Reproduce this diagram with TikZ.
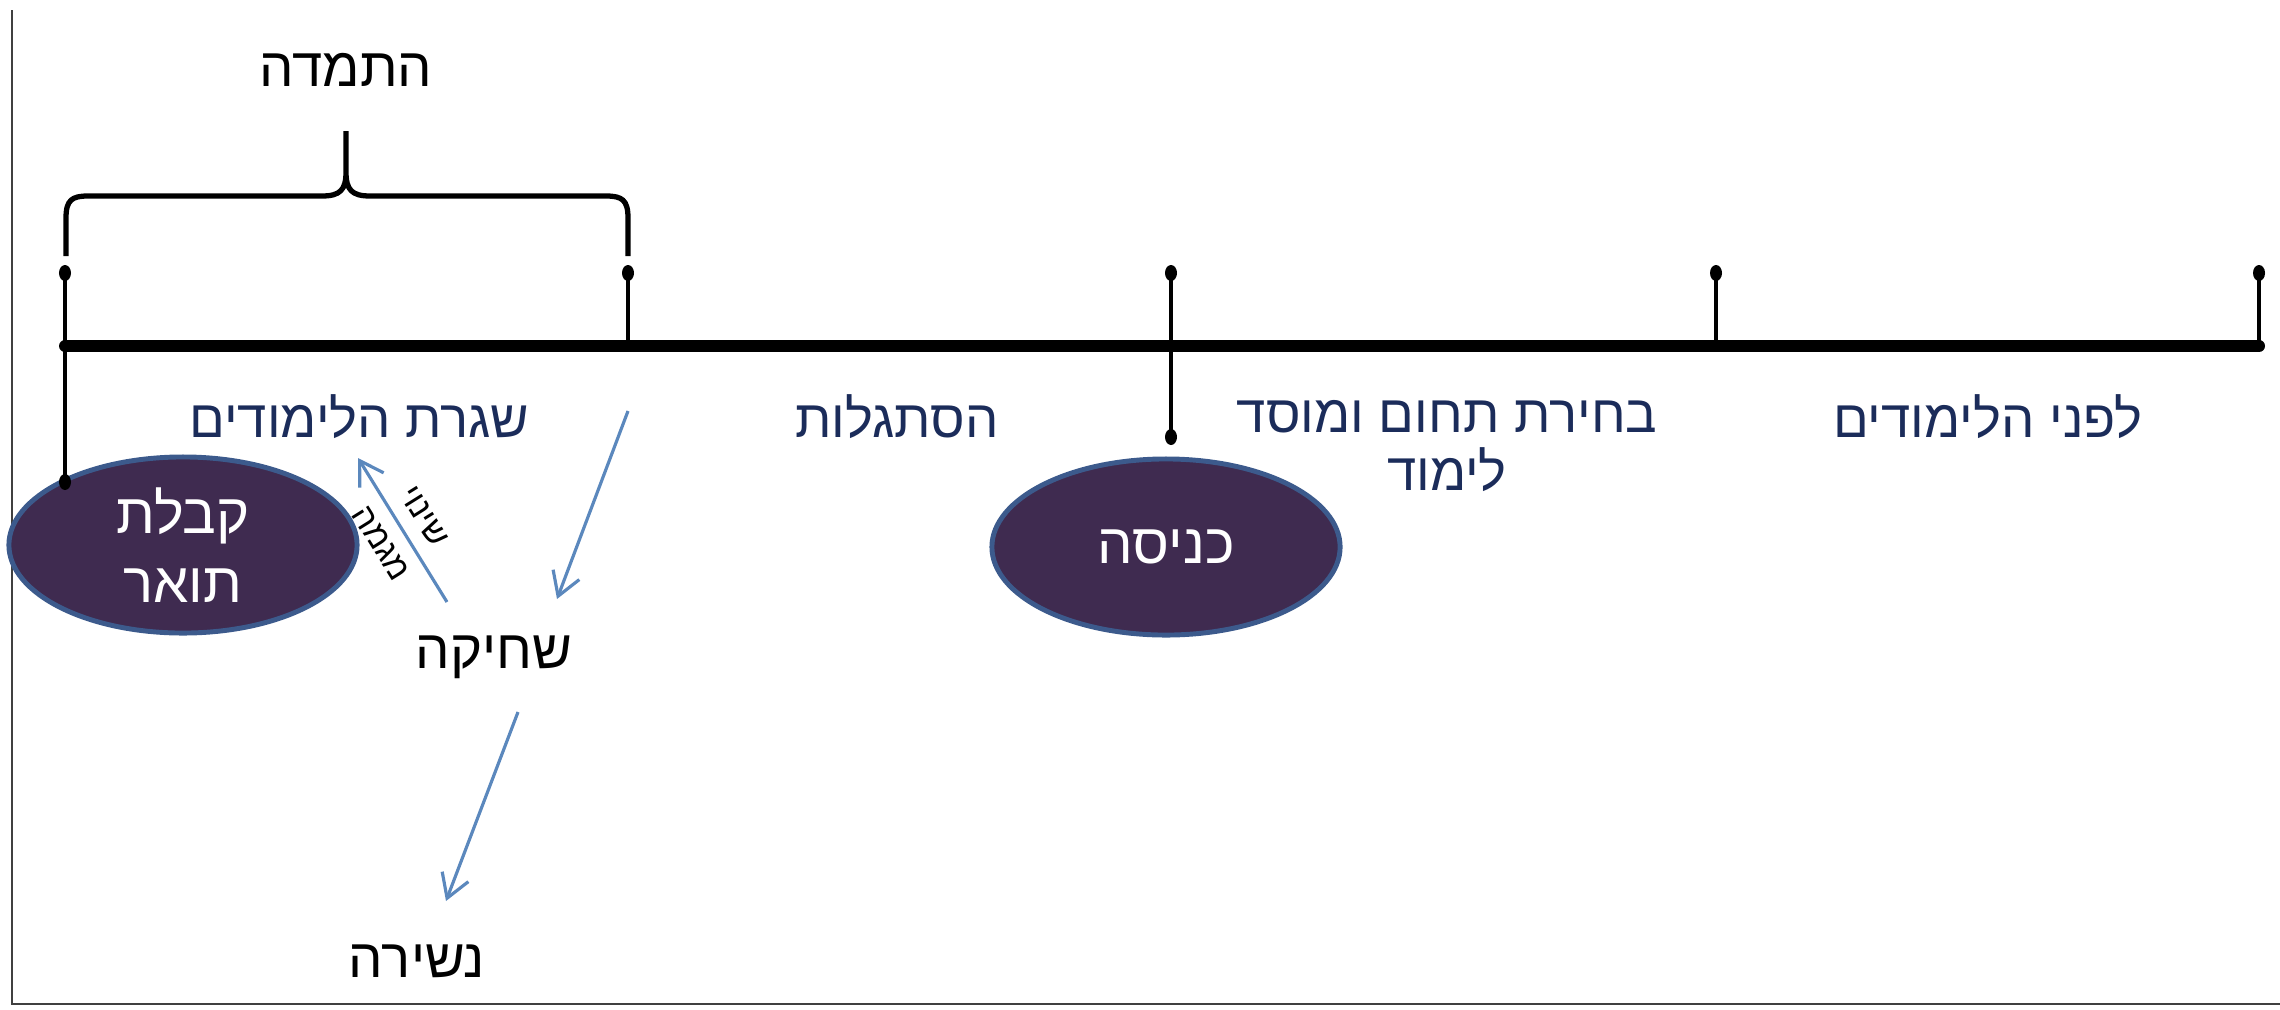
\documentclass[tikz,border=0pt]{standalone}
\usepackage{fontspec}
\usetikzlibrary{arrows.meta,shapes.geometric}
\newfontfamily\heb[Script=Hebrew]{Liberation Sans}
\TeXXeTstate=1
\newcommand{\RL}[1]{\beginR #1\endR}
\definecolor{navy}{HTML}{1B2C5A}
\definecolor{ellfill}{HTML}{3F2B50}
\definecolor{elldraw}{HTML}{3C5A8C}
\definecolor{arrowc}{HTML}{5B88BD}
\begin{document}
\begin{tikzpicture}[x=0.01cm,y=-0.01cm,
  lbl/.style={text=navy,font=\heb\fontsize{15}{16.5}\selectfont,inner sep=0pt,align=center},
  blk/.style={text=black,font=\heb\fontsize{15.5}{17.5}\selectfont,inner sep=0pt,align=center},
  small/.style={text=black,font=\heb\fontsize{9.5}{14.5}\selectfont,inner sep=0pt,align=center},
  ell/.style={ellipse,fill=ellfill,draw=elldraw,line width=1.4pt,text=white,
    font=\heb\fontsize{16}{19.5}\selectfont,align=center,inner sep=0pt,
    minimum width=3.48cm,minimum height=1.76cm},
  tdot/.style={ellipse,fill=black,minimum width=0.12cm,minimum height=0.16cm,inner sep=0pt},
  mainline/.style={line width=3.4pt,line cap=round},
  tick/.style={line width=1.2pt},
  brace/.style={line width=1.5pt},
  arr/.style={draw=arrowc,line width=0.9pt,-{Straight Barb[length=0.23cm,width=0.28cm]}},
  frame/.style={draw=black!75,line width=0.7pt}]
\useasboundingbox (0,0) rectangle (2280,1009);
% frame
\coordinate (fa) at (12,10);
\coordinate (fb) at (12,1004);
\coordinate (fc) at (2280,1004);
\draw[frame] (fa) -- (fb) -- (fc);
% timeline points
\coordinate (t1) at (65,346);
\coordinate (t2) at (628,346);
\coordinate (t3) at (1171,346);
\coordinate (t4) at (1716,346);
\coordinate (t5) at (2259,346);
% ellipses
\node[ell] (grad) at (183,545) {\RL{קבלת}\\\RL{תואר}};
\node[ell] (entry) at (1166,547) {\RL{כניסה}};
% dots
\node[tdot] (d1) at (65,273) {};
\node[tdot] (d2) at (628,273) {};
\node[tdot] (d3) at (1171,273) {};
\node[tdot] (d4) at (1716,273) {};
\node[tdot] (d5) at (2259,273) {};
\node[tdot] (e1) at (65,482) {};
\node[tdot] (e3) at (1171,437) {};
% ticks
\draw[tick] (d1.center) -- (e1.center);
\draw[tick] (d2.center) -- (t2);
\draw[tick] (d3.center) -- (e3.center);
\draw[tick] (d4.center) -- (t4);
\draw[tick] (d5.center) -- (t5);
\draw[mainline] (t1) -- (t5);
% brace
\coordinate (bl) at (66,256);
\coordinate (br) at (628,256);
\coordinate (btip) at (346,131);
\draw[brace] (bl) -- (66,218) .. controls (66,200) and (72,196) .. (88,196)
  -- (322,196) .. controls (340,196) and (346,190) .. (346,172) -- (btip)
  -- (346,172) .. controls (346,190) and (352,196) .. (370,196)
  -- (606,196) .. controls (622,196) and (628,200) .. (628,218) -- (br);
\node[blk] (persist) at (346,70) {\RL{התמדה}};
% labels
\node[lbl] (routine) at (359,417) {\RL{שגרת הלימודים}};
\node[lbl] (adapt) at (897,417) {\RL{הסתגלות}};
\node[lbl] (choice) at (1447,446) {\RL{בחירת תחום ומוסד}\\\RL{לימוד}};
\node[lbl] (before) at (1988,417) {\RL{לפני הלימודים}};
\node[blk] (burn) at (494,657) {\RL{שחיקה}};
\node[blk] (drop) at (417,961) {\RL{נשירה}};
% arrows
\coordinate (a1s) at (628,411);
\coordinate (a1e) at (557,599);
\coordinate (a2s) at (447,602);
\coordinate (a2e) at (358,458);
\coordinate (a3s) at (518,712);
\coordinate (a3e) at (446,901);
\draw[arr] (a1s) -- (a1e);
\draw[arr] (a2s) -- (a2e) node[midway,small,rotate=-58] (change) {\RL{שינוי}\\\RL{מגמה}};
\draw[arr] (a3s) -- (a3e);
\end{tikzpicture}
\end{document}
